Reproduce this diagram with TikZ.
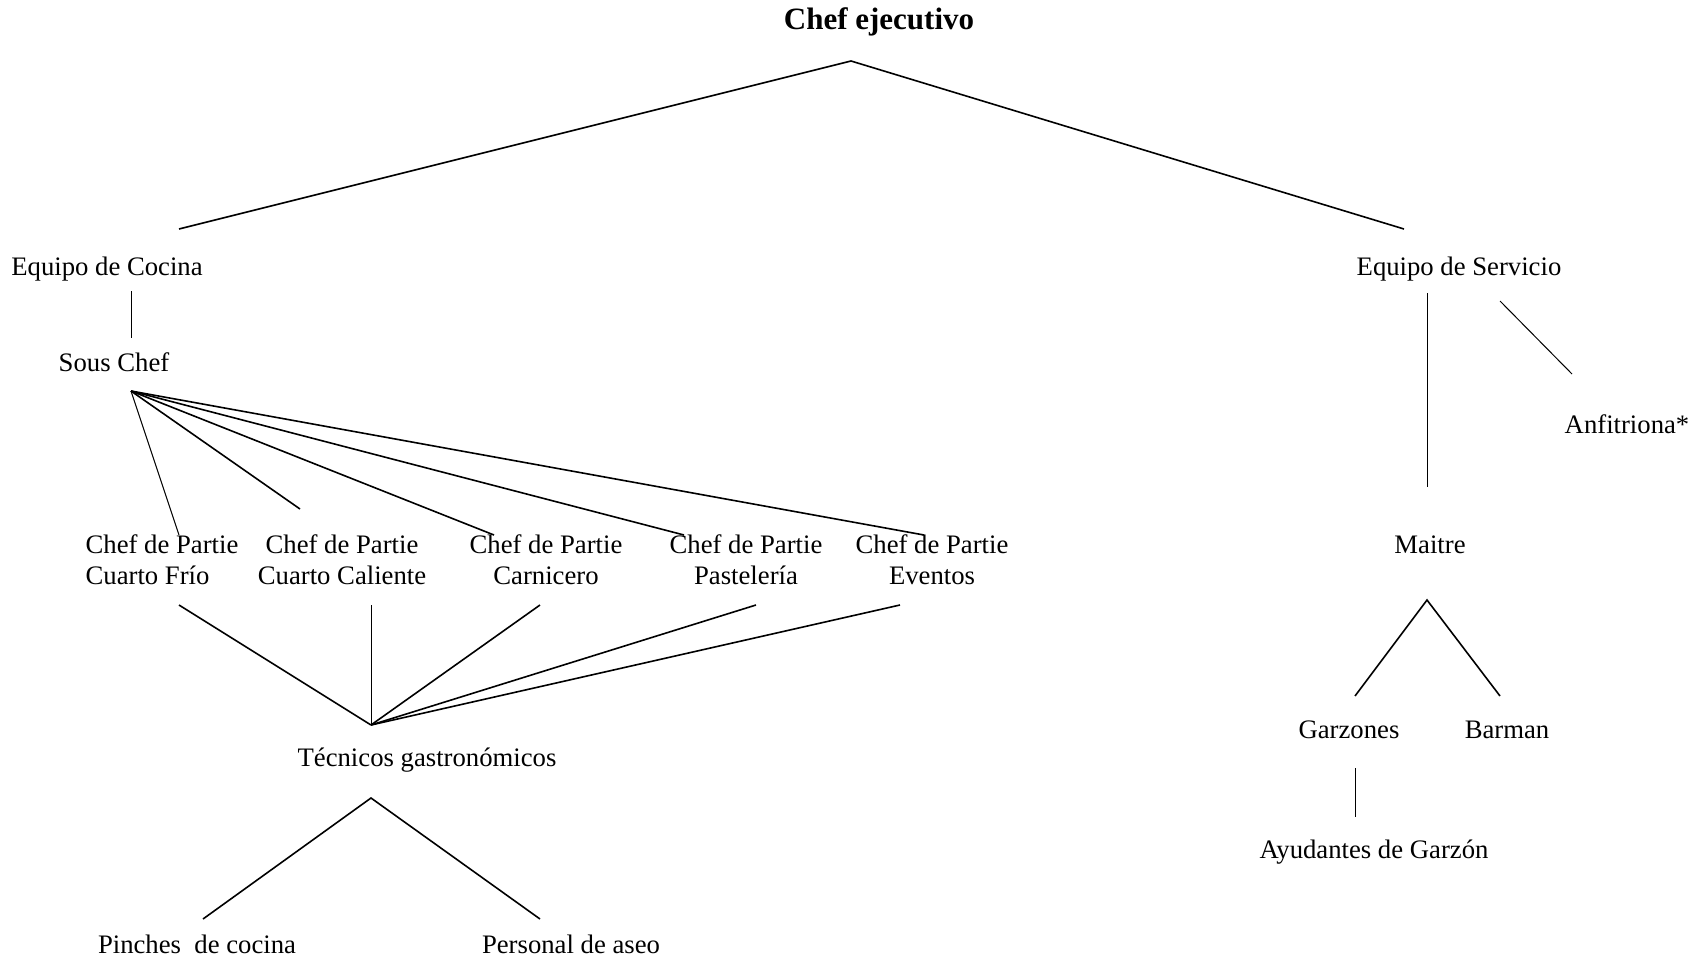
\documentclass[tikz,border=0pt]{standalone}
\usepackage{fontspec}
\setmainfont{Liberation Serif}
\usetikzlibrary{positioning}

\begin{document}
\begin{tikzpicture}[x=0.5pt,y=-0.5pt,
	lbl/.style={inner sep=0pt,font=\fontsize{13.35}{15.5}\selectfont},
	rama/.style={line width=0.8pt},
	fina/.style={line width=0.5pt}
	]

	\useasboundingbox (0,0) rectangle (1703,959);

	\node[inner sep=0pt,font=\fontsize{15.5}{18}\selectfont\bfseries] (chef) at (879,22) {Chef ejecutivo};

	\node[lbl] (cocina) at (107,269) {Equipo de Cocina};
	\node[lbl] (servicio) at (1459,269) {Equipo de Servicio};
	\node[lbl] (sous) at (114,362) {Sous Chef};
	\node[lbl] (anfitriona) at (1627,424) {Anfitriona*};

	\node[lbl,align=left] (frio) at (162,560) {Chef de Partie\\Cuarto Frío};
	\node[lbl,align=center] (caliente) at (342,560) {Chef de Partie\\Cuarto Caliente};
	\node[lbl,align=center] (carnicero) at (546,560) {Chef de Partie\\Carnicero};
	\node[lbl,align=center] (pasteleria) at (746,560) {Chef de Partie\\Pastelería};
	\node[lbl,align=center] (eventos) at (932,560) {Chef de Partie\\Eventos};
	\node[lbl] (maitre) at (1430,545) {Maitre};

	\node[lbl] (tecnicos) at (427,760) {Técnicos gastronómicos};
	\node[lbl] (garzones) at (1349,730) {Garzones};
	\node[lbl] (barman) at (1507,730) {Barman};
	\node[lbl] (ayudantes) at (1374,852) {Ayudantes de Garzón};
	\node[lbl] (pinches) at (197,944) {Pinches\ \ de cocina};
	\node[lbl] (aseo) at (571,944) {Personal de aseo};

	% line ends
	\coordinate (chef-b) at (851,61);
	\coordinate (cocina-t) at (179,229);
	\coordinate (servicio-t) at (1404,229);
	\coordinate (cocina-b) at (131,291);
	\coordinate (sous-t) at (131,338);
	\coordinate (sous-b) at (131,391);
	\coordinate (frio-t) at (179,535);
	\coordinate (caliente-t) at (300,509);
	\coordinate (carnicero-t) at (494,535);
	\coordinate (pasteleria-t) at (684,535);
	\coordinate (eventos-t) at (924,535);
	\coordinate (frio-b) at (179,605);
	\coordinate (caliente-b) at (371,605);
	\coordinate (carnicero-b) at (540,605);
	\coordinate (pasteleria-b) at (756,605);
	\coordinate (eventos-b) at (900,605);
	\coordinate (tecnicos-t) at (371,725);
	\coordinate (tecnicos-b) at (371,798);
	\coordinate (pinches-t) at (203,919);
	\coordinate (aseo-t) at (540,919);
	\coordinate (servicio-b) at (1427,293);
	\coordinate (maitre-t) at (1427,487);
	\coordinate (servicio-r) at (1500,301);
	\coordinate (anfitriona-t) at (1572,374);
	\coordinate (maitre-b) at (1427,600);
	\coordinate (garzones-t) at (1355,696);
	\coordinate (barman-t) at (1500,696);
	\coordinate (garzones-b) at (1355,768);
	\coordinate (ayudantes-t) at (1355,817);

	\draw[rama] (cocina-t) -- (chef-b) -- (servicio-t);
	\draw[fina] (cocina-b) -- (sous-t);

	\draw[fina] (sous-b) -- (frio-t);
	\foreach \n in {caliente,carnicero,pasteleria,eventos}
		\draw[rama] (sous-b) -- (\n-t);

	\draw[rama] (frio-b) -- (tecnicos-t);
	\draw[fina] (caliente-b) -- (tecnicos-t);
	\foreach \n in {carnicero,pasteleria,eventos}
		\draw[rama] (\n-b) -- (tecnicos-t);

	\draw[rama] (pinches-t) -- (tecnicos-b) -- (aseo-t);

	\draw[fina] (servicio-b) -- (maitre-t);
	\draw[fina] (servicio-r) -- (anfitriona-t);
	\draw[rama] (garzones-t) -- (maitre-b) -- (barman-t);
	\draw[fina] (garzones-b) -- (ayudantes-t);

\end{tikzpicture}
\end{document}
